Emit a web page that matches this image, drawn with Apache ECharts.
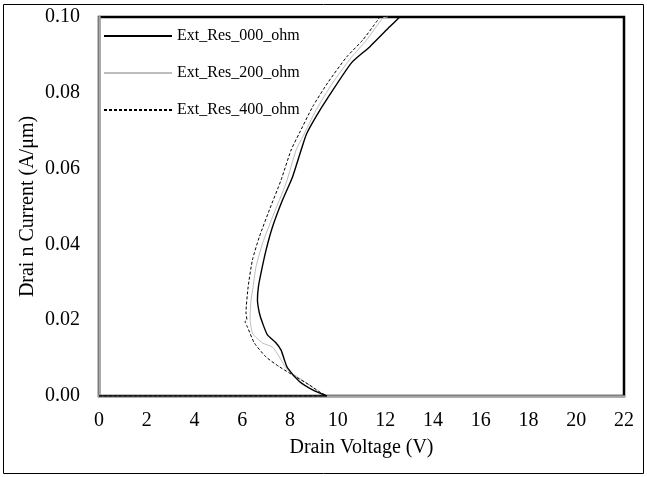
<!DOCTYPE html>
<html>
<head>
<meta charset="utf-8">
<script src="https://cdn.jsdelivr.net/npm/echarts@6/dist/echarts.min.js"></script>
<style>
  html, body { margin: 0; padding: 0; background: #fff; }
  #chart { width: 647px; height: 477px; }
</style>
</head>
<body>
<div id="chart"></div>
<script>
// Snapback I-V curves for three external resistances
const seriesNames = ['Ext_Res_000_ohm', 'Ext_Res_200_ohm', 'Ext_Res_400_ohm'];

// Drain voltage (V) / drain current (A/um), 0 ohm
const v000 = [0, 9.55, 8.95, 8.40, 7.90, 7.77, 7.63, 7.42, 7.06, 6.85, 6.72, 6.64, 6.68, 6.79, 7.00, 7.27, 7.69, 8.11, 8.47, 8.70, 9.10, 9.58, 10.58, 11.34, 12.18, 12.60];
const i000 = [0, 0, 0.0016, 0.0038, 0.0074, 0.0095, 0.0121, 0.0140, 0.0161, 0.0193, 0.0219, 0.0253, 0.0288, 0.0325, 0.0385, 0.0446, 0.0517, 0.0578, 0.0649, 0.0692, 0.0738, 0.0786, 0.0879, 0.0921, 0.0974, 0.1000];

// 200 ohm
const v200 = [0, 9.55, 9.10, 8.53, 7.90, 7.56, 7.27, 6.85, 6.43, 6.33, 6.37, 6.44, 6.58, 6.86, 7.27, 7.84, 8.26, 8.53, 9.10, 9.79, 10.58, 11.21, 11.89, 12.10];
const i200 = [0, 0, 0.0016, 0.0042, 0.0069, 0.0103, 0.0129, 0.0140, 0.0166, 0.0209, 0.0253, 0.0280, 0.0341, 0.0404, 0.0472, 0.0562, 0.0649, 0.0683, 0.0755, 0.0826, 0.0894, 0.0939, 0.0997, 0.1000];

// 400 ohm
const v400 = [0, 9.55, 9.24, 8.82, 8.26, 7.56, 7.00, 6.51, 6.22, 6.12, 6.20, 6.16, 6.25, 6.43, 6.72, 7.14, 7.63, 8.05, 8.40, 8.95, 9.58, 10.37, 11.05, 11.68, 11.76];
const i400 = [0, 0, 0.0011, 0.0029, 0.0050, 0.0077, 0.0103, 0.0140, 0.0182, 0.0196, 0.0200, 0.0219, 0.0288, 0.0359, 0.0420, 0.0491, 0.0570, 0.0649, 0.0694, 0.0763, 0.0826, 0.0894, 0.0939, 0.0992, 0.1000];

// Axis ticks
const xTicks = { min: 0, max: 22, step: 2 };
const yTicks = { min: 0, max: 0.1, step: 0.02 };

const pairs = (xs, ys) => xs.map((x, k) => [x, ys[k]]);

const serif = '"Liberation Serif", "Times New Roman", serif';

const chart = echarts.init(document.getElementById('chart'), null, { renderer: 'canvas' });

chart.setOption({
  animation: false,
  backgroundColor: '#fff',
  textStyle: { fontFamily: serif },
  graphic: [{
    type: 'rect',
    shape: { x: 3.5, y: 4.5, width: 640, height: 469 },
    style: { fill: 'none', stroke: '#000', lineWidth: 1 },
    silent: true, z: -1
  }],
  grid: {
    left: 99, right: 23, top: 17, bottom: 81,
    show: true, borderColor: '#000', borderWidth: 2.5, backgroundColor: '#fff'
  },
  legend: {
    orient: 'vertical',
    left: 98, top: 23,
    itemWidth: 68, itemHeight: 14, itemGap: 21,
    itemStyle: { opacity: 0 },
    textStyle: { fontFamily: serif, fontSize: 16, color: '#000' },
    data: seriesNames
  },
  xAxis: {
    type: 'value', min: xTicks.min, max: xTicks.max, interval: xTicks.step,
    name: 'Drain Voltage (V)', nameLocation: 'middle', nameGap: 42,
    nameMoveOverlap: false,
    nameTextStyle: { fontFamily: serif, fontSize: 20, color: '#000' },
    axisLine: { show: true, onZero: false, lineStyle: { color: '#a6a6a6', width: 2.5 } },
    axisTick: { show: false },
    splitLine: { show: false },
    axisLabel: { fontFamily: serif, fontSize: 20, color: '#000', margin: 15 }
  },
  yAxis: {
    type: 'value', min: yTicks.min, max: yTicks.max, interval: yTicks.step,
    name: 'Drai n Current (A/μm)', nameLocation: 'middle', nameGap: 61,
    nameMoveOverlap: false,
    nameTextStyle: { fontFamily: serif, fontSize: 20, color: '#000' },
    axisLine: { show: true, onZero: false, lineStyle: { color: '#a6a6a6', width: 2.5 } },
    axisTick: { show: false },
    splitLine: { show: false },
    axisLabel: { fontFamily: serif, fontSize: 20, color: '#000', margin: 19,
      formatter: v => v.toFixed(2) }
  },
  series: [
    {
      name: seriesNames[0], type: 'line', data: pairs(v000, i000),
      showSymbol: false, symbol: 'none', symbolSize: 0, smooth: 0.2, z: 5,
      lineStyle: { color: '#000', width: 1.4, type: 'solid' },
      itemStyle: { color: '#000' }
    },
    {
      name: seriesNames[1], type: 'line', data: pairs(v200, i200),
      showSymbol: false, symbol: 'none', symbolSize: 0, smooth: 0.2, z: 3,
      lineStyle: { color: '#bdbdbd', width: 1, type: 'solid' },
      itemStyle: { color: '#bdbdbd' }
    },
    {
      name: seriesNames[2], type: 'line', data: pairs(v400, i400),
      showSymbol: false, symbol: 'none', symbolSize: 0, smooth: 0.2, z: 4,
      lineStyle: { color: '#000', width: 1, type: [3, 2] },
      itemStyle: { color: '#000' }
    }
  ]
});
</script>
</body>
</html>
